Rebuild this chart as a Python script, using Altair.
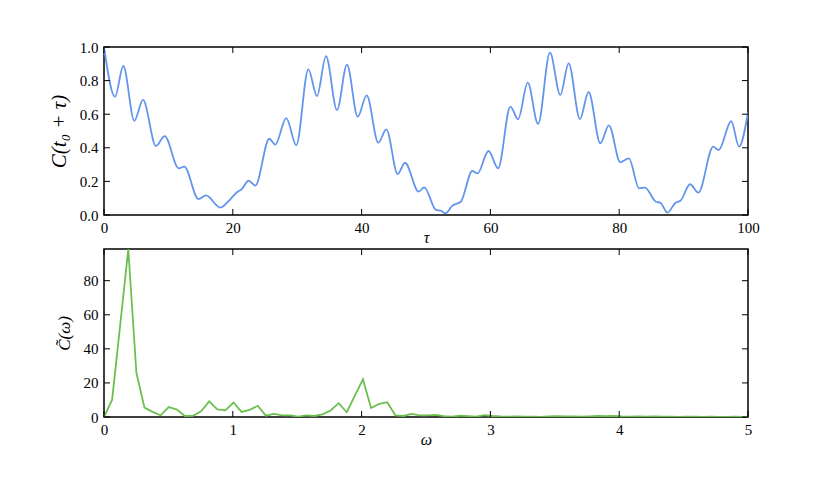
import math
import altair as alt
import pandas as pd

# ---- data ----
tau = [0, 1.71, 3.0, 4.71, 6.06, 8.07, 9.42, 11.6, 12.47, 14.65, 15.84, 18.07,
       19.5, 20.75, 21.3, 22.46, 23.5, 25.67, 26.6, 28.3, 29.86, 31.73, 33.07,
       34.47, 36.18, 37.73, 39.4, 40.79, 42.6, 43.84, 45.6, 46.74, 48.86, 49.74,
       51.55, 52.3, 53.0, 54.1, 55.4, 57.2, 58.0, 59.7, 61.2, 63.1, 64.3, 65.8,
       67.4, 69.25, 70.85, 72.15, 73.9, 75.25, 77.07, 78.4, 80.17, 81.5, 83.1,
       84.0, 85.7, 86.4, 87.5, 88.66, 89.6, 91.0, 92.3, 94.6, 95.45, 97.4, 98.6,
       100]
corr = [1.0, 0.704, 0.887, 0.561, 0.685, 0.411, 0.470, 0.278, 0.288, 0.095,
        0.117, 0.044, 0.089, 0.139, 0.150, 0.204, 0.175, 0.454, 0.419, 0.577,
        0.415, 0.867, 0.708, 0.946, 0.625, 0.895, 0.585, 0.712, 0.430, 0.510,
        0.244, 0.311, 0.139, 0.165, 0.030, 0.026, 0.010, 0.056, 0.079, 0.262,
        0.248, 0.381, 0.278, 0.645, 0.570, 0.788, 0.542, 0.966, 0.714, 0.903,
        0.571, 0.732, 0.427, 0.534, 0.314, 0.337, 0.159, 0.163, 0.079, 0.073,
        0.014, 0.070, 0.089, 0.183, 0.133, 0.407, 0.387, 0.558, 0.407, 0.610]

omega_step = 2 * math.pi / 100
spec = [0, 10, 54, 98.5, 26, 5.5, 3, 1, 5.8, 4.4,
        0.6, 0.7, 3.3, 9.2, 4.5, 3.9, 8.5, 3, 4.2, 6.6,
        0.8, 1.8, 1.0, 1.0, 0.2, 1.0, 0.6, 1.6, 3.8, 8.1,
        2.8, 12.5, 22.1, 5.3, 7.7, 8.7, 1.0, 0.6, 1.8, 0.9,
        1.0, 1.2, 0.5, 0.2, 0.8, 0.5, 0.2, 1.1, 0.6, 0.3,
        0.2, 0.3, 0.2, 0.2, 0.1, 0.3, 0.5, 0.4, 0.3, 0.2,
        0.4, 0.6, 0.5, 0.6, 0.3, 0.2, 0.3, 0.2, 0.3, 0.2,
        0.2, 0.1, 0.2, 0.2, 0.1, 0.2, 0.1, 0.1, 0.2, 0.1, 0.1]
omega = [k * omega_step for k in range(len(spec))]

top_xticks = [0, 20, 40, 60, 80, 100]
top_yticks = [0.0, 0.2, 0.4, 0.6, 0.8, 1.0]
bot_xticks = [0, 1, 2, 3, 4, 5]
bot_yticks = [0, 20, 40, 60, 80]

W, H = 644, 168
TICK = 6
FONT = "Liberation Serif"
BLUE = "#6495ED"
GREEN = "#6cbf4f"


def panel(df, xf, yf, xdom, ydom, xticks, yticks, xtitle, ytitle, yfmt,
          color, ytitle_size, interp):
    xs = alt.Scale(domain=xdom, nice=False, zero=False)
    ys = alt.Scale(domain=ydom, nice=False, zero=False)
    xaxis = alt.Axis(values=xticks, title=xtitle, grid=False,
                     ticks=False, tickSize=0, domain=False,
                     labelPadding=5, labelFontSize=15,
                     labelFont=FONT, labelColor="black",
                     titleFont=FONT, titleFontSize=16,
                     titleFontStyle="italic", titleFontWeight="normal",
                     titlePadding=-6, titleColor="black",
                     labelFlush=False, labelOverlap=False)
    yaxis = alt.Axis(values=yticks, title=ytitle, grid=False,
                     ticks=False, tickSize=0, domain=False,
                     format=yfmt, labelPadding=6, labelFontSize=15,
                     labelFont=FONT, labelColor="black",
                     titleFont=FONT, titleFontSize=ytitle_size,
                     titleFontStyle="italic", titleFontWeight="normal",
                     titlePadding=10, titleColor="black",
                     labelFlush=False, labelOverlap=False)
    line = alt.Chart(df).mark_line(color=color, strokeWidth=1.8,
                                   interpolate=interp, clip=True).encode(
        x=alt.X(f"{xf}:Q", scale=xs, axis=xaxis),
        y=alt.Y(f"{yf}:Q", scale=ys, axis=yaxis),
    )
    xt = pd.DataFrame({xf: xticks})
    yt = pd.DataFrame({yf: yticks})
    rule = dict(color="black", strokeWidth=1)
    bx = alt.Chart(xt).mark_rule(**rule).encode(
        x=alt.X(f"{xf}:Q", scale=xs, axis=xaxis),
        y=alt.value(H), y2=alt.value(H - TICK))
    tx = alt.Chart(xt).mark_rule(**rule).encode(
        x=alt.X(f"{xf}:Q", scale=xs, axis=xaxis),
        y=alt.value(0), y2=alt.value(TICK))
    ly = alt.Chart(yt).mark_rule(**rule).encode(
        y=alt.Y(f"{yf}:Q", scale=ys, axis=yaxis),
        x=alt.value(0), x2=alt.value(TICK))
    ry = alt.Chart(yt).mark_rule(**rule).encode(
        y=alt.Y(f"{yf}:Q", scale=ys, axis=yaxis),
        x=alt.value(W), x2=alt.value(W - TICK))
    return alt.layer(line, bx, tx, ly, ry).properties(width=W, height=H)


top = panel(pd.DataFrame({"tau": tau, "C": corr}), "tau", "C", [0, 100],
            [0, 1], top_xticks, top_yticks, "τ", "C(t₀ + τ)", ".1f", BLUE, 21,
            "monotone")
bot = panel(pd.DataFrame({"omega": omega, "S": spec}), "omega", "S", [0, 5],
            [0, 98.6], bot_xticks, bot_yticks, "ω", "C̃(ω)", "d", GREEN, 17,
            "linear")

chart = alt.vconcat(top, bot, spacing=1).properties(
    padding={"left": 39, "top": 31, "right": 5, "bottom": 5}
).configure(background="white").configure_view(stroke="black", strokeWidth=1.5)

chart.save("out.html", embed_options={"renderer": "svg", "actions": False})
